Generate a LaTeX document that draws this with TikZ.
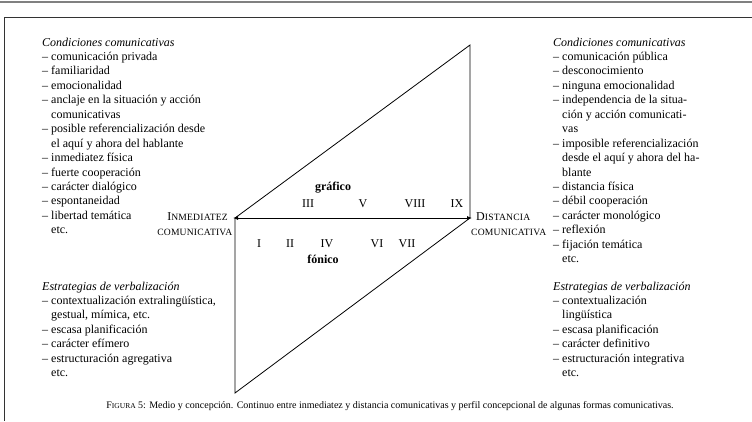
\documentclass[tikz,border=0pt]{standalone}
\usepackage{fontspec}
\setmainfont{Liberation Serif}
\usetikzlibrary{arrows.meta}
\newcommand\hind{\hphantom{– }}
\newcommand\lblsc[2]{{\fontsize{12}{12}\selectfont #1}{\fontsize{9.6}{12}\selectfont\addfontfeature{LetterSpace=2}#2}}
\begin{document}
\begin{tikzpicture}[x=1pt,y=-1pt,
  body/.style={font=\fontsize{12}{14.45}\selectfont, inner sep=0pt, anchor=base west},
  lbl/.style={inner sep=0pt},
  num/.style={font=\fontsize{12}{14}\selectfont, inner sep=0pt, anchor=base},
  medio/.style={font=\fontsize{12}{14}\selectfont\bfseries, inner sep=0pt, anchor=base},
  edge/.style={line width=0.8pt}
]
\useasboundingbox (0,0) rectangle (752,421);
\draw[line width=1.6pt, black!50] (0,2) -- (752,2);
\draw[line width=1pt, black!80] (752,17) -- (4.5,17) -- (4.5,421);

% diagram vertices
\coordinate (L) at (235,218);
\coordinate (T) at (470,45);
\coordinate (R) at (470,218);
\coordinate (B) at (235,393);
\draw[edge] (L) -- (T) -- (R);
\draw[edge] (L) -- (B) -- (R);
\draw[edge, {Latex[length=5pt,width=4pt]}-{Latex[length=5pt,width=4pt]}, shorten <=-2pt, shorten >=-2pt] (L) -- (R);

% labels at ends
\node[lbl, anchor=base east] (inm) at (228,220) {\lblsc{I}{NMEDIATEZ}};
\node[lbl, anchor=base east] (comL) at (232.5,235) {\lblsc{}{COMUNICATIVA}};
\node[lbl, anchor=base west] (dis) at (476,220) {\lblsc{D}{ISTANCIA}};
\node[lbl, anchor=base west] (comR) at (471,235) {\lblsc{}{COMUNICATIVA}};

% medium labels and numerals
\node[medio] (graf) at (333,190) {gráfico};
\node[num] (n3) at (308,207) {III};
\node[num] (n5) at (363,207) {V};
\node[num] (n8) at (415,207) {VIII};
\node[num] (n9) at (457,207) {IX};
\node[num] (n1) at (259,247) {I};
\node[num] (n2) at (290,247) {II};
\node[num] (n4) at (327,247) {IV};
\node[num] (n6) at (377,247) {VI};
\node[num] (n7) at (407,247) {VII};
\node[medio] (fon) at (323,263) {fónico};

% left blocks
\node[body] (lc) at (42,46) {\begin{tabular}[t]{@{}l@{}}
\textit{Condiciones comunicativas}\\
– comunicación privada\\
– familiaridad\\
– emocionalidad\\
– anclaje en la situación y acción\\
\hind comunicativas\\
– posible referencialización desde\\
\hind el aquí y ahora del hablante\\
– inmediatez física\\
– fuerte cooperación\\
– carácter dialógico\\
– espontaneidad\\
– libertad temática\\
\hind etc.
\end{tabular}};
\node[body] (le) at (42,290) {\begin{tabular}[t]{@{}l@{}}
\textit{Estrategias de verbalización}\\
– contextualización extralingüística,\\
\hind gestual, mímica, etc.\\
– escasa planificación\\
– carácter efímero\\
– estructuración agregativa\\
\hind etc.
\end{tabular}};

% right blocks
\node[body] (rc) at (553,46) {\begin{tabular}[t]{@{}l@{}}
\textit{Condiciones comunicativas}\\
– comunicación pública\\
– desconocimiento\\
– ninguna emocionalidad\\
– independencia de la situa-\\
\hind ción y acción comunicati-\\
\hind vas\\
– imposible referencialización\\
\hind desde el aquí y ahora del ha-\\
\hind blante\\
– distancia física\\
– débil cooperación\\
– carácter monológico\\
– reflexión\\
– fijación temática\\
\hind etc.
\end{tabular}};
\node[body] (re) at (553,290) {\begin{tabular}[t]{@{}l@{}}
\textit{Estrategias de verbalización}\\
– contextualización\\
\hind lingüística\\
– escasa planificación\\
– carácter definitivo\\
– estructuración integrativa\\
\hind etc.
\end{tabular}};

% caption
\node[inner sep=0pt, anchor=base, font=\fontsize{10}{12}\selectfont] (cap) at (390,408)
 {F{\fontsize{7.5}{9}\selectfont IGURA} 5: Medio y concepción. Continuo entre inmediatez y distancia comunicativas y perfil concepcional de algunas formas comunicativas.};
\end{tikzpicture}
\end{document}
